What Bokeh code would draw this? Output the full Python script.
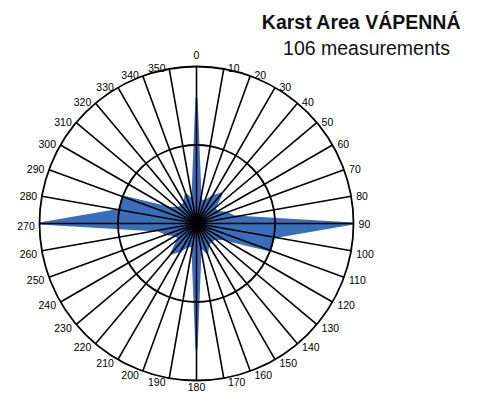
import numpy as np
from bokeh.plotting import figure
from bokeh.models import Range1d, ColumnDataSource
from bokeh.embed import file_html
from bokeh.resources import INLINE
from bokeh.core.properties import value

# ---- data ----
title_text = "Karst Area VÁPENNÁ"
subtitle_text = "106 measurements"
bin_angles = list(range(0, 180, 10))          # azimuth of each bin (deg)
bin_counts = [16, 3, 3, 4, 5, 3, 3, 4, 5, 20, 10, 10, 4, 3, 3, 3, 4, 3]
ring_values = [10, 20]
label_angles = list(range(0, 360, 10))

# axial data: mirror to the opposite direction
all_angles = bin_angles + [a + 180 for a in bin_angles]
all_counts = bin_counts + bin_counts

W, H = 468, 391
S = 7.85              # pixels per count
CX, CY = 196, 223     # centre in canvas pixels (from top-left)
R = max(ring_values)

p = figure(width=W, height=H, output_backend="svg", toolbar_location=None,
           x_range=Range1d(-CX / S, (W - CX) / S),
           y_range=Range1d(-(H - CY) / S, CY / S),
           min_border=0, outline_line_color=None)
p.axis.visible = False
p.grid.visible = False
p.background_fill_color = "white"
p.border_fill_color = "white"

th = np.radians(all_angles)
cnt = np.array(all_counts, dtype=float)
p.patch(x=cnt * np.sin(th), y=cnt * np.cos(th), fill_color="#3a6dba",
        line_color="#3a6dba", line_width=2.2)

la = np.radians(label_angles)
p.segment(x0=np.zeros(len(la)), y0=np.zeros(len(la)),
          x1=R * np.sin(la), y1=R * np.cos(la), line_color="black", line_width=1.6)
p.circle(x=[0] * len(ring_values), y=[0] * len(ring_values), radius=ring_values,
         fill_color=None, line_color="black", line_width=1.8)

# direction labels
bottom_y = -(H - 1 - CY) / S
lx, ly, lt, al, bl = [], [], [], [], []
for a in label_angles:
    t = np.radians(a)
    s, c = np.sin(t), np.cos(t)
    if abs(s) < 0.05:
        if c > 0:
            lx.append(0.0); ly.append(R + 1.0); bl.append("bottom")
        else:
            lx.append(0.0); ly.append(bottom_y); bl.append("bottom")
        al.append("center")
    else:
        rr = R + 0.15
        lx.append(rr * s + (0.5 if s > 0 else -0.45))
        ly.append(rr * c + (0.0 if c > 0 else -0.35))
        al.append("left" if s > 0 else "right"); bl.append("middle")
    lt.append(str(a))
src = ColumnDataSource(dict(x=lx, y=ly, text=lt, align=al, base=bl))
p.text(x="x", y="y", text="text", text_align="align", text_baseline="base", source=src,
       text_font=value("Liberation Sans"), text_font_size="10.5px", text_color="black")

p.text(x=[(361 - CX) / S], y=[(CY - 21) / S], text=[title_text], text_align="center",
       text_baseline="middle", text_font=value("Liberation Sans"), text_font_style="bold",
       text_font_size="19.5px", text_color="#111111")
p.text(x=[(366 - CX) / S], y=[(CY - 47) / S], text=[subtitle_text], text_align="center",
       text_baseline="middle", text_font=value("Liberation Sans"), text_font_size="19.5px",
       text_color="#111111")

open("out.html", "w").write(file_html(p, INLINE))
